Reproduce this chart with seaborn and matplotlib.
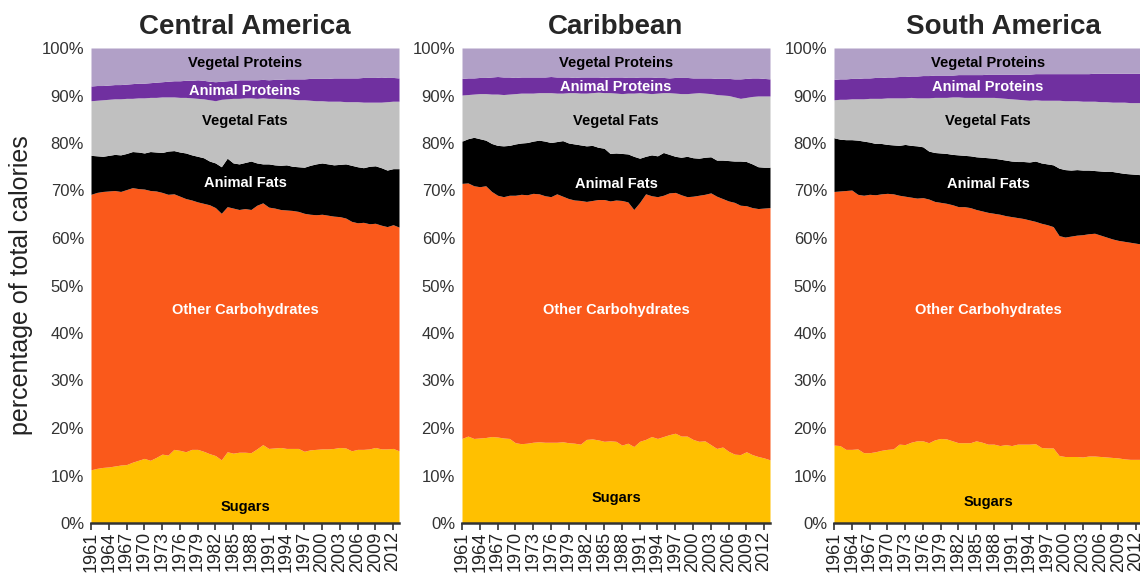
import numpy as np
import matplotlib
matplotlib.use("Agg")
import matplotlib.pyplot as plt
import seaborn as sns

years = list(range(1961, 2014))
tick_years = list(range(1961, 2013, 3))
y_ticks = [0, 10, 20, 30, 40, 50, 60, 70, 80, 90, 100]

regions = ["Central America", "Caribbean", "South America"]
categories = ["Sugars", "Other Carbohydrates", "Animal Fats",
              "Vegetal Fats", "Animal Proteins", "Vegetal Proteins"]

# cumulative share (%) of calories up to the top of each layer
ca_sugars_top = [11.2, 11.5, 11.7, 11.8, 12.0, 12.2, 12.3, 12.8, 13.2, 13.6, 13.2, 13.8, 14.5, 14.3, 15.5,
                 15.3, 15.0, 15.5, 15.5, 15.1, 14.6, 14.2, 13.3, 15.0, 14.7, 14.9, 14.9, 14.8, 15.6, 16.5,
                 15.7, 15.8, 15.9, 15.7, 15.7, 15.7, 15.1, 15.4, 15.5, 15.6, 15.6, 15.7, 15.9, 15.8, 15.2,
                 15.5, 15.5, 15.6, 15.9, 15.6, 15.6, 15.7, 15.2]
ca_carbs_top = [69.2, 69.6, 69.8, 69.9, 70.0, 69.8, 70.2, 70.6, 70.4, 70.3, 70.0, 69.9, 69.6, 69.2, 69.3,
                68.8, 68.3, 68.0, 67.6, 67.3, 67.0, 66.4, 65.2, 66.6, 66.3, 66.0, 66.2, 66.0, 66.9, 67.4,
                66.5, 66.3, 66.0, 65.9, 65.8, 65.6, 65.2, 65.0, 64.9, 65.0, 64.8, 64.6, 64.5, 64.2, 63.5,
                63.2, 63.3, 63.0, 63.1, 62.7, 62.4, 62.8, 62.3]
ca_animal_fats_top = [77.4, 77.3, 77.2, 77.4, 77.6, 77.5, 77.8, 78.2, 78.1, 77.9, 78.2, 78.1, 78.0, 78.3, 78.4,
                      78.1, 77.9, 77.5, 77.2, 76.9, 76.2, 75.8, 75.0, 76.8, 75.8, 75.6, 75.9, 76.2, 75.8, 75.6,
                      75.6, 75.4, 75.3, 75.4, 75.1, 75.0, 74.9, 75.3, 75.6, 75.8, 75.6, 75.4, 75.5, 75.6, 75.3,
                      75.0, 74.8, 75.1, 75.2, 74.8, 74.3, 74.6, 74.6]
ca_vegetal_fats_top = [88.9, 89.0, 89.1, 89.2, 89.3, 89.3, 89.4, 89.4, 89.5, 89.5, 89.6, 89.6, 89.7, 89.7, 89.7,
                       89.6, 89.6, 89.5, 89.4, 89.3, 89.1, 88.9, 89.2, 89.3, 89.4, 89.4, 89.5, 89.5, 89.4, 89.5,
                       89.4, 89.4, 89.3, 89.3, 89.2, 89.1, 89.1, 89.0, 88.9, 88.9, 88.8, 88.8, 88.8, 88.7, 88.7,
                       88.7, 88.6, 88.6, 88.6, 88.6, 88.7, 88.8, 88.8]
ca_animal_prot_top = [92.0, 92.1, 92.1, 92.2, 92.3, 92.3, 92.4, 92.5, 92.6, 92.6, 92.7, 92.8, 92.9, 93.0, 93.1,
                      93.1, 93.2, 93.2, 93.3, 93.2, 93.0, 92.9, 93.0, 93.1, 93.2, 93.3, 93.3, 93.3, 93.3, 93.4,
                      93.3, 93.4, 93.4, 93.5, 93.5, 93.5, 93.5, 93.6, 93.6, 93.6, 93.6, 93.7, 93.7, 93.7, 93.7,
                      93.7, 93.8, 93.8, 93.8, 93.9, 93.8, 93.8, 93.7]

cb_sugars_top = [17.8, 18.3, 17.8, 17.9, 18.0, 18.2, 18.1, 17.9, 17.8, 16.9, 16.7, 16.8, 17.0, 17.1, 17.0,
                 17.0, 17.0, 17.1, 16.9, 16.8, 16.6, 17.6, 17.7, 17.5, 17.2, 17.3, 17.2, 16.4, 16.8, 16.1,
                 17.2, 17.6, 18.2, 17.8, 18.2, 18.6, 18.9, 18.3, 18.3, 17.6, 17.2, 17.3, 16.5, 15.7, 16.0,
                 15.1, 14.5, 14.4, 15.0, 14.4, 14.0, 13.7, 13.3]
cb_carbs_top = [71.5, 71.6, 71.0, 70.8, 71.0, 69.8, 69.0, 68.7, 69.0, 69.0, 69.2, 69.1, 69.4, 69.3, 68.9,
                68.7, 69.3, 68.8, 68.3, 68.0, 67.9, 67.7, 67.9, 68.1, 68.1, 67.8, 68.0, 67.9, 67.6, 66.0,
                67.5, 69.3, 68.9, 68.7, 69.0, 69.5, 69.6, 69.1, 68.7, 68.8, 69.0, 69.2, 69.5, 68.8, 68.3,
                67.8, 67.5, 66.9, 66.8, 66.4, 66.2, 66.3, 66.4]
cb_animal_fats_top = [80.4, 80.9, 81.2, 80.9, 80.6, 79.9, 79.5, 79.4, 79.5, 79.8, 80.0, 80.1, 80.4, 80.6, 80.4,
                      80.1, 80.3, 80.5, 80.0, 79.8, 79.6, 79.4, 79.5, 79.1, 78.9, 77.8, 77.9, 77.8, 77.7, 77.2,
                      76.8, 77.2, 77.5, 77.3, 78.0, 77.6, 77.2, 77.0, 77.2, 76.9, 76.8, 77.0, 77.1, 76.4, 76.4,
                      76.3, 76.2, 76.2, 76.1, 75.6, 75.0, 74.9, 74.9]
cb_vegetal_fats_top = [90.1, 90.2, 90.3, 90.4, 90.4, 90.3, 90.3, 90.2, 90.3, 90.4, 90.5, 90.5, 90.5, 90.6, 90.6,
                       90.6, 90.5, 90.5, 90.6, 90.6, 90.5, 90.5, 90.6, 90.7, 90.6, 90.6, 90.5, 90.4, 90.5, 90.5,
                       90.6, 90.5, 90.4, 90.5, 90.6, 90.6, 90.5, 90.4, 90.4, 90.5, 90.6, 90.5, 90.4, 90.2, 90.1,
                       90.0, 89.7, 89.4, 89.6, 89.8, 89.9, 89.9, 89.9]
cb_animal_prot_top = [93.6, 93.7, 93.7, 93.8, 93.8, 93.9, 94.0, 93.9, 93.9, 93.8, 93.9, 93.9, 93.9, 93.9, 93.9,
                      94.0, 93.9, 93.9, 93.9, 93.8, 93.9, 93.9, 93.9, 93.9, 93.8, 93.9, 93.9, 93.9, 93.8, 93.8,
                      93.9, 93.9, 93.9, 93.8, 93.8, 93.7, 93.8, 93.8, 93.8, 93.7, 93.7, 93.7, 93.7, 93.6, 93.6,
                      93.6, 93.5, 93.5, 93.6, 93.7, 93.7, 93.6, 93.5]

sa_sugars_top = [16.4, 16.3, 15.5, 15.5, 15.6, 14.8, 14.8, 15.0, 15.3, 15.5, 15.6, 16.6, 16.5, 17.0, 17.3,
                 17.3, 16.9, 17.5, 17.8, 17.7, 17.3, 16.9, 16.9, 16.9, 17.3, 17.0, 16.6, 16.6, 16.3, 16.5,
                 16.3, 16.6, 16.6, 16.6, 16.7, 15.9, 15.8, 15.8, 14.2, 14.0, 14.0, 14.0, 13.9, 14.1, 14.1,
                 14.0, 13.9, 13.8, 13.7, 13.5, 13.4, 13.4, 13.4]
sa_carbs_top = [69.8, 69.9, 70.0, 70.1, 69.2, 69.0, 69.2, 69.1, 69.3, 69.4, 69.3, 69.0, 68.8, 68.6, 68.4,
                68.5, 68.2, 67.7, 67.5, 67.3, 67.0, 66.6, 66.6, 66.4, 66.0, 65.7, 65.4, 65.2, 65.0, 64.7,
                64.5, 64.3, 64.1, 63.8, 63.5, 63.1, 62.8, 62.4, 60.5, 60.2, 60.4, 60.6, 60.7, 60.9, 61.0,
                60.6, 60.2, 59.8, 59.5, 59.3, 59.1, 58.9, 58.7]
sa_animal_fats_top = [81.1, 80.8, 80.7, 80.7, 80.6, 80.4, 80.2, 79.9, 79.9, 79.7, 79.6, 79.5, 79.7, 79.5, 79.4,
                      79.2, 78.3, 78.0, 77.9, 77.8, 77.6, 77.5, 77.4, 77.3, 77.1, 77.0, 76.9, 76.8, 76.6, 76.4,
                      76.2, 76.1, 76.1, 76.0, 76.2, 75.8, 75.6, 75.4, 74.7, 74.4, 74.3, 74.4, 74.3, 74.3, 74.2,
                      74.1, 74.0, 74.0, 73.8, 73.6, 73.5, 73.4, 73.3]
sa_vegetal_fats_top = [89.1, 89.2, 89.2, 89.3, 89.3, 89.3, 89.4, 89.4, 89.4, 89.5, 89.5, 89.5, 89.5, 89.6, 89.5,
                       89.5, 89.5, 89.6, 89.6, 89.6, 89.7, 89.7, 89.6, 89.6, 89.6, 89.6, 89.6, 89.6, 89.5, 89.4,
                       89.3, 89.2, 89.1, 89.0, 89.1, 89.0, 89.0, 89.0, 89.0, 88.9, 88.9, 88.9, 88.8, 88.8, 88.8,
                       88.7, 88.7, 88.6, 88.6, 88.6, 88.5, 88.5, 88.5]
sa_animal_prot_top = [93.4, 93.5, 93.5, 93.6, 93.6, 93.7, 93.7, 93.8, 93.8, 93.9, 93.9, 94.0, 94.0, 94.1, 94.1,
                      94.2, 94.2, 94.3, 94.3, 94.3, 94.3, 94.4, 94.4, 94.4, 94.4, 94.4, 94.5, 94.5, 94.5, 94.5,
                      94.5, 94.5, 94.5, 94.5, 94.6, 94.6, 94.6, 94.6, 94.6, 94.6, 94.6, 94.6, 94.6, 94.6, 94.7,
                      94.7, 94.7, 94.7, 94.7, 94.7, 94.7, 94.7, 94.7]

colors = ["#FFC000", "#FA591B", "#000000", "#C0C0C0", "#7030A0", "#B1A0C7"]
label_colors = ["black", "white", "white", "black", "white", "black"]

panels = [
    (ca_sugars_top, ca_carbs_top, ca_animal_fats_top, ca_vegetal_fats_top, ca_animal_prot_top),
    (cb_sugars_top, cb_carbs_top, cb_animal_fats_top, cb_vegetal_fats_top, cb_animal_prot_top),
    (sa_sugars_top, sa_carbs_top, sa_animal_fats_top, sa_vegetal_fats_top, sa_animal_prot_top),
]
label_y = [
    [3.4, 44.8, 71.6, 84.6, 91.0, 96.8],
    [5.3, 44.8, 71.4, 84.6, 91.8, 96.8],
    [4.4, 44.8, 71.4, 84.6, 91.8, 96.8],
]

sns.set_theme(style="white")
plt.rcParams["font.family"] = ["Liberation Sans", "DejaVu Sans"]

fig = plt.figure(figsize=(11.4, 5.73), dpi=100)
lefts = [91, 462, 834]
title_x = [0.5, 0.5, 0.55]
for k, (region, tops) in enumerate(zip(regions, panels)):
    ax = fig.add_axes([lefts[k] / 1140, 50 / 573, 308 / 1140, 475 / 573])
    cum = np.vstack([np.zeros(len(years))] + [np.array(t) for t in tops] + [np.full(len(years), 100.0)])
    shares = np.diff(cum, axis=0)
    ax.stackplot(years, shares, colors=colors, linewidth=0)
    ax.set_xlim(1961, 2013)
    ax.set_ylim(0, 100)
    ax.set_xticks(tick_years)
    ax.set_xticklabels([str(y) for y in tick_years], rotation=90, fontsize=13, color="#222222")
    ax.set_yticks(y_ticks)
    ax.set_yticklabels([f"{v}%" for v in y_ticks], fontsize=12, color="#333333")
    for s in ["top", "right", "left"]:
        ax.spines[s].set_visible(False)
    ax.spines["bottom"].set_color("#333333")
    ax.spines["bottom"].set_linewidth(1.8)
    ax.tick_params(axis="x", direction="out", length=5, width=1.2, color="#333333", pad=1, bottom=True)
    ax.tick_params(axis="y", length=0, pad=5)
    ax.set_title(region, fontsize=20, fontweight="bold", x=title_x[k], pad=10)
    for cat, yv, lc in zip(categories, label_y[k], label_colors):
        ax.text(1987, yv, cat, ha="center", va="center", fontsize=10.5,
                fontweight="bold", color=lc)
    if k == 0:
        ax.set_ylabel("percentage of total calories", fontsize=18, color="#222222", labelpad=6)
    ax.grid(False)

fig.savefig("out.png", dpi=100)
